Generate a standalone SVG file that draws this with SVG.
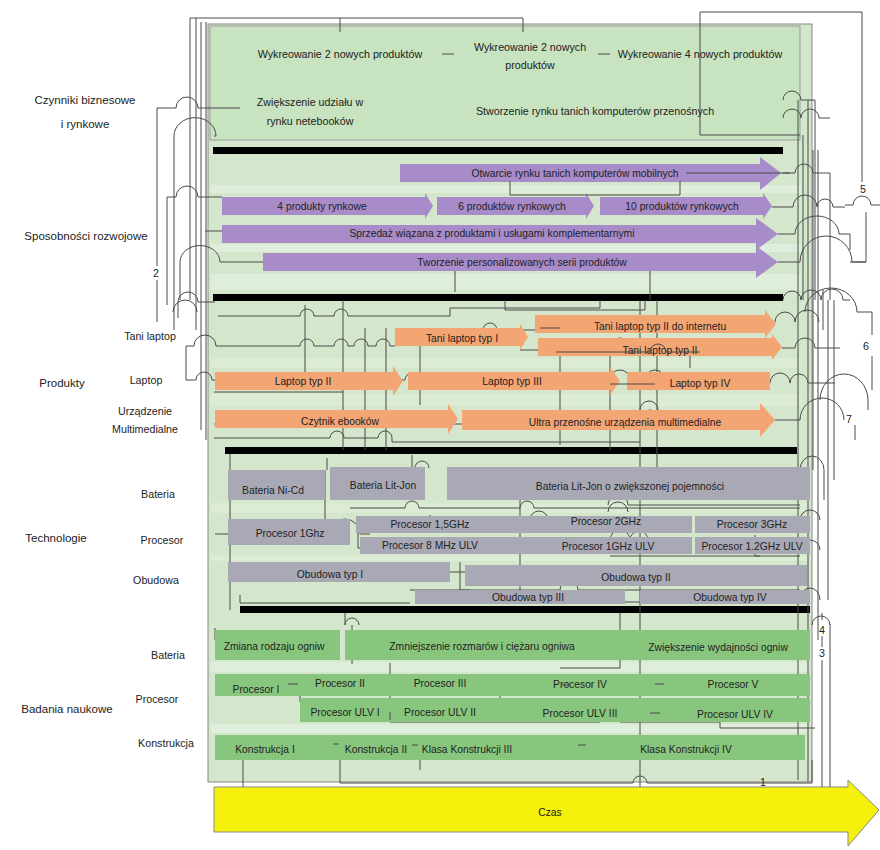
<svg xmlns="http://www.w3.org/2000/svg" width="880" height="850" viewBox="0 0 880 850">
<style>
text{font-family:"Liberation Sans",Arial,sans-serif;fill:#222;text-anchor:middle}
.t{font-size:10.3px}
.s{font-size:10.7px}
.h{font-size:11.5px}
.pur{fill:#a88bc9}
.org{fill:#f3a574}
.gry{fill:#a9a9b6}
.grn{fill:#88c67e}
.bar{fill:#000}
.c{fill:none;stroke:#4a4a4a;stroke-width:1}
</style>
<rect width="880" height="850" fill="#fff"/>
<g id="panel">
<rect x="208" y="24" width="604" height="758" fill="#d4e6cc" stroke="#888" stroke-width="1"/>
<rect x="210" y="26" width="590" height="114" fill="#c8e3c0" stroke="#999" stroke-width="1"/>
<rect x="211" y="185" width="590" height="8" fill="#dfeeda"/>
<rect x="211" y="244" width="590" height="8" fill="#dfeeda"/>
<rect x="211" y="274" width="590" height="16" fill="#dfeeda"/>
<rect x="211" y="358" width="590" height="10" fill="#dbebd4"/>
<rect x="211" y="394" width="590" height="12" fill="#dbebd4"/>
<rect x="211" y="503" width="598" height="10" fill="#dbebd4"/>
<rect x="211" y="555" width="598" height="6" fill="#dbebd4"/>
<rect x="211" y="662" width="598" height="10" fill="#dfeeda"/>
<rect x="211" y="724" width="598" height="9" fill="#dfeeda"/>
</g>
<g id="dividers">
<rect class="bar" x="213" y="147" width="570" height="7"/>
<rect class="bar" x="213" y="294" width="570" height="7"/>
<rect class="bar" x="225" y="447" width="572" height="7"/>
<rect class="bar" x="240" y="606" width="570" height="7"/>
</g>
<g id="labels-left">
<text class="h" x="85" y="104">Czynniki biznesowe</text>
<text class="h" x="85" y="128">i rynkowe</text>
<text class="h" x="86" y="240">Sposobności rozwojowe</text>
<text class="s" x="150" y="340">Tani laptop</text>
<text class="h" x="62" y="387">Produkty</text>
<text class="s" x="146" y="384">Laptop</text>
<text class="s" x="145" y="415">Urządzenie</text>
<text class="s" x="145" y="433">Multimedialne</text>
<text class="s" x="158" y="498">Bateria</text>
<text class="h" x="56" y="542">Technologie</text>
<text class="s" x="162" y="544">Procesor</text>
<text class="s" x="156" y="584">Obudowa</text>
<text class="s" x="168" y="659">Bateria</text>
<text class="h" x="67" y="713">Badania naukowe</text>
<text class="s" x="157" y="703">Procesor</text>
<text class="s" x="166" y="747">Konstrukcja</text>
</g>
<g id="connectors">
<path class="c" d="M190,18 H523 V32 M340,18 V32"/>
<path class="c" d="M190,18 V300 M196,18 V330 M201,22 V430 M206,22 V440"/>
<path class="c" d="M700,12 H862 V182 M700,12 V135 H800"/>
<path class="c" d="M845,205 H853 a9,9 0 0 1 18,0 H880 M866,212 V262 H850"/>
<path class="c" d="M157,322 V280 M157,266 V108 H176 a11,11 0 0 1 22,0 H240"/>
<path class="c" d="M174,330 V136 a16,14 0 0 1 42,0 H214"/>
<path class="c" d="M167,305 V197 H176 a11,11 0 0 1 22,0 H222"/>
<path class="c" d="M205,231 H222"/>
<path class="c" d="M180,300 V262 a17,14 0 0 1 40,0 H263"/>
<path class="c" d="M178,318 V302 a10,10 0 0 1 20,0 H215 M173,312 a12,12 0 0 1 24,0"/>
<path class="c" d="M186,380 V346 H194 a11,11 0 0 1 22,0 H300 a7,7 0 0 1 14,0 H334 a7,7 0 0 1 14,0 H354 a7,7 0 0 1 14,0 H376 a7,7 0 0 1 14,0 H395"/>
<path class="c" d="M218,316 H300 a7,7 0 0 1 14,0 H334 a7,7 0 0 1 14,0 H450 V308 H600 V300"/>
<path class="c" d="M186,380 H196 a8,8 0 0 1 16,0 H330 a7,7 0 0 1 14,0 a7,7 0 0 1 14,0 H366 a7,7 0 0 1 14,0 H405 a7,7 0 0 1 14,0 H520"/>
<path class="c" d="M305,305 V381 M343,300 V450 M365,328 V450 M386,328 V450 M420,340 V405"/>
<path class="c" d="M214,392 H343 M214,424 H325 a7,7 0 0 1 14,0 a7,7 0 0 1 14,0 H360 a7,7 0 0 1 14,0 H420 a7,7 0 0 1 14,0 H470 a7,7 0 0 1 14,0 H520"/>
<path class="c" d="M214,438 H330 a7,7 0 0 1 14,0 H378 a7,7 0 0 1 14,0 V442 H640"/>
<path class="c" d="M455,292 V270 H650 V300 M505,300 V310 H645 V300"/>
<path class="c" d="M545,330 H483 a7,7 0 0 1 14,0 M500,330 V340 H510"/>
<path class="c" d="M520,350 H608 a12,12 0 0 1 24,0 H690 V368 M560,345 V445 M610,355 V450"/>
<path class="c" d="M610,380 a10,10 0 0 1 20,0 H660 M645,380 a10,10 0 0 1 20,0"/>
<path class="c" d="M640,300 V790 M657,300 V500"/>
<path class="c" d="M640,410 a9,9 0 0 1 18,0 M640,420 a10,10 0 0 1 20,0"/>
<path class="c" d="M230,454 V610 M325,470 V520 H300 M327,458 V470"/>
<path class="c" d="M215,534 H330 a15,15 0 0 1 30,0 H370 M358,520 V548 H520"/>
<path class="c" d="M350,508 H405 a7,7 0 0 1 14,0 H520 a7,7 0 0 1 14,0 H800"/>
<path class="c" d="M412,455 V480 M415,468 a7,7 0 0 1 14,0 M430,515 V530 M520,500 V590 M530,520 a9,9 0 0 1 18,0"/>
<path class="c" d="M608,505 a10,10 0 0 1 20,0 H800 M608,512 a10,10 0 0 1 20,0 M610,540 a10,10 0 0 1 20,0 a9,9 0 0 1 18,0"/>
<path class="c" d="M610,556 H760 M755,535 V556 H800 M748,524 H760"/>
<path class="c" d="M460,562 V590 H470 M447,572 H465 M410,590 H560 a9,9 0 0 1 18,0 H800"/>
<path class="c" d="M240,595 V603 H410 M520,602 H640"/>
<path class="c" d="M345,613 V625 a7,7 0 0 1 14,0 M352,625 V664"/>
<path class="c" d="M215,628 V640 M330,640 H340"/>
<path class="c" d="M620,613 V668 H560 M588,690 H597 a10,10 0 0 1 20,0 H800"/>
<path class="c" d="M390,663 V722 H500 V693 H620 M385,690 a7,7 0 0 1 14,0 M215,688 H295 M300,690 V702"/>
<path class="c" d="M500,722 H600 a10,10 0 0 1 20,0 H720 V728 H815"/>
<path class="c" d="M243,760 V793 H640 M340,760 V783 H633 a7,7 0 0 1 14,0 H812 V760 M420,760 V770"/>
<path class="c" d="M798,100 V780 M803,135 V300 M808,100 V782 M813,150 V470 M818,150 V640 M823,290 V330 M828,300 V600 M834,300 V480"/>
<path class="c" d="M783,173 H795 a9,9 0 0 1 18,0 H830 V300"/>
<path class="c" d="M772,207 H793 a12,12 0 0 1 24,0 a8,8 0 0 1 16,0 H845"/>
<path class="c" d="M778,234 H795 a22,18 0 0 1 44,0 H850 V250"/>
<path class="c" d="M778,262 H800 a26,26 0 0 1 52,0 H866"/>
<path class="c" d="M783,100 a9,9 0 0 1 18,0 H815 V300 M783,118 a9,9 0 0 1 18,0 a9,9 0 0 1 18,0 H830"/>
<path class="c" d="M783,300 a9,9 0 0 1 18,0 a10,10 0 0 1 20,0 a11,11 0 0 1 22,0 H850 M805,312 a26,24 0 0 1 52,0 H872 V335 M872,356 V390"/>
<path class="c" d="M775,322 a10,10 0 0 1 20,0 a12,12 0 0 1 24,0 M782,348 H795 a10,10 0 0 1 20,0 H840"/>
<path class="c" d="M770,383 a10,10 0 0 1 20,0 a9,9 0 0 1 18,0 H835"/>
<path class="c" d="M775,420 H800 a22,22 0 0 1 44,0 M820,400 a24,26 0 0 1 48,0 V410 M855,425 V440"/>
<path class="c" d="M800,470 a12,14 0 0 1 24,0 V500 M800,520 a10,10 0 0 1 20,0 M800,550 a10,10 0 0 1 20,0 M800,600 a10,12 0 0 1 20,0"/>
<path class="c" d="M812,625 a9,9 0 0 1 18,0 V624 M822,613 V620 M822,636 V647 M822,660 V790 M830,625 V790"/>
</g>
<g id="czynniki">
<text class="s" x="340" y="58">Wykreowanie 2 nowych  produktów</text>
<text class="s" x="530" y="51">Wykreowanie 2 nowych</text>
<text class="s" x="530" y="69">produktów</text>
<text class="s" x="700" y="58">Wykreowanie 4 nowych  produktów</text>
<text class="s" x="310" y="106">Zwiększenie udziału w</text>
<text class="s" x="310" y="125">rynku netebooków</text>
<text class="s" x="595" y="115">Stworzenie rynku tanich komputerów przenośnych</text>
<path class="c" d="M442,54 H454 M598,54 H610"/>
</g>
<g id="sposobnosci">
<path class="pur" d="M400,164 H760 V157 L781,173 L760,190 V182 H400 Z"/>
<text class="t" x="575" y="177">Otwarcie rynku tanich komputerów mobilnych</text>
<path class="pur" d="M222,197 H425 V193 L433,206 L425,219 V215 H222 Z"/>
<text class="t" x="322" y="210">4 produkty rynkowe</text>
<path class="pur" d="M437,197 H586 V193 L594,206 L586,219 V215 H437 Z"/>
<text class="t" x="512" y="210">6 produktów rynkowych</text>
<path class="pur" d="M600,197 H763 V193 L772,206 L763,219 V215 H600 Z"/>
<text class="t" x="682" y="210">10 produktów rynkowych</text>
<path class="pur" d="M222,225 H756 V218 L778,234 L756,250 V243 H222 Z"/>
<text class="t" x="492" y="237">Sprzedaż wiązana z produktami i usługami komplementarnymi</text>
<path class="pur" d="M263,253 H756 V246 L778,262 L756,278 V271 H263 Z"/>
<text class="t" x="522" y="266">Tworzenie personalizowanych serii produktów</text>
<path class="c" d="M686,173 H790 M510,181 V195 H680 V181"/>
</g>
<g id="produkty">
<path class="org" d="M395,328 H520 V324 L528,337 L520,350 V346 H395 Z"/>
<text class="t" x="462" y="342">Tani laptop typ I</text>
<path class="org" d="M535,315 H765 V310 L776,324 L765,338 V333 H535 Z"/>
<text class="t" x="660" y="330">Tani laptop typ II do internetu</text>
<path class="org" d="M538,338 H772 V334 L782,347 L772,360 V356 H538 Z"/>
<text class="t" x="660" y="354">Tani laptop typ II</text>
<path class="org" d="M215,372 H393 V366 L403,381 L393,396 V390 H215 Z"/>
<text class="t" x="303" y="385">Laptop typ II</text>
<path class="org" d="M408,372 H610 V367 L620,381 L610,395 V390 H408 Z"/>
<text class="t" x="512" y="385">Laptop typ III</text>
<path class="org" d="M627,372 H770 V390 H627 Z"/>
<text class="t" x="700" y="387">Laptop typ IV</text>
<path class="org" d="M215,410 H448 V404 L458,419 L448,434 V428 H215 Z"/>
<text class="t" x="340" y="425">Czytnik ebooków</text>
<path class="org" d="M462,410 H760 V403 L775,420 L760,437 V430 H462 Z"/>
<text class="t" x="625" y="426">Ultra przenośne urządzenia multimedialne</text>
<path class="c" d="M540,328 H560 M556,352 H650 a8,8 0 0 1 16,0 H700 M610,384 H655"/>
</g>
<g id="technologie">
<rect class="gry" x="228" y="470" width="97" height="30"/>
<text class="t" x="273" y="494">Bateria Ni-Cd</text>
<rect class="gry" x="330" y="467" width="95" height="33"/>
<text class="t" x="383" y="489">Bateria Lit-Jon</text>
<rect class="gry" x="447" y="467" width="363" height="33"/>
<text class="t" x="630" y="490">Bateria Lit-Jon o zwiększonej pojemności</text>
<rect class="gry" x="228" y="519" width="122" height="26"/>
<text class="t" x="290" y="537">Procesor 1Ghz</text>
<rect class="gry" x="356" y="516" width="164" height="17"/>
<text class="t" x="430" y="528">Procesor 1,5GHz</text>
<rect class="gry" x="520" y="516" width="172" height="17"/>
<text class="t" x="606" y="525">Procesor 2GHz</text>
<rect class="gry" x="695" y="516" width="115" height="17"/>
<text class="t" x="752" y="528">Procesor 3GHz</text>
<rect class="gry" x="360" y="537" width="160" height="17"/>
<text class="t" x="430" y="549">Procesor 8 MHz ULV</text>
<rect class="gry" x="520" y="537" width="172" height="17"/>
<text class="t" x="608" y="550">Procesor 1GHz ULV</text>
<rect class="gry" x="695" y="537" width="115" height="17"/>
<text class="t" x="752" y="550">Procesor 1.2GHz ULV</text>
<rect class="gry" x="228" y="562" width="222" height="20"/>
<text class="t" x="330" y="578">Obudowa typ I</text>
<rect class="gry" x="465" y="565" width="342" height="21"/>
<text class="t" x="636" y="581">Obudowa typ II</text>
<rect class="gry" x="415" y="590" width="210" height="14"/>
<text class="t" x="528" y="601">Obudowa typ III</text>
<rect class="gry" x="640" y="590" width="170" height="14"/>
<text class="t" x="730" y="601">Obudowa typ IV</text>
</g>
<g id="badania">
<rect class="grn" x="215" y="630" width="125" height="30"/>
<text class="t" x="274" y="650">Zmiana rodzaju ogniw</text>
<rect class="grn" x="345" y="630" width="275" height="30"/>
<text class="t" x="482" y="650">Zmniejszenie rozmarów i ciężaru ogniwa</text>
<rect class="grn" x="620" y="630" width="190" height="30"/>
<text class="t" x="718" y="651">Zwiększenie wydajności ogniw</text>
<rect class="grn" x="215" y="674" width="595" height="22"/>
<rect class="grn" x="300" y="698" width="510" height="24"/>
<text class="t" x="256" y="693">Procesor I</text>
<text class="t" x="340" y="687">Procesor II</text>
<text class="t" x="440" y="687">Procesor III</text>
<text class="t" x="580" y="688">Procesor IV</text>
<text class="t" x="733" y="688">Procesor V</text>
<text class="t" x="345" y="716">Procesor ULV I</text>
<text class="t" x="440" y="716">Procesor ULV II</text>
<text class="t" x="580" y="717">Procesor ULV III</text>
<text class="t" x="735" y="718">Procesor ULV IV</text>
<rect class="grn" x="215" y="735" width="590" height="25"/>
<text class="t" x="265" y="753">Konstrukcja I</text>
<text class="t" x="376" y="753">Konstrukcja II</text>
<text class="t" x="467" y="753">Klasa Konstrukcji III</text>
<text class="t" x="686" y="753">Klasa Konstrukcji IV</text>
<path class="c" d="M288,684 H298 M333,744 H339 M412,745 H418 M578,745 H586 M562,685 H570 M655,684 H664 M650,713 H660 M390,712 V720"/>
</g>
<g id="numbers">
<rect x="150" y="266" width="12" height="14" fill="#fff"/>
<text class="s" x="156" y="277">2</text>
<text class="s" x="863" y="193">5</text>
<text class="s" x="866" y="350">6</text>
<text class="s" x="849" y="423">7</text>
<text class="s" x="822" y="634">4</text>
<text class="s" x="822" y="657">3</text>
<text class="s" x="763" y="786">1</text>
</g>
<g id="czas">
<path d="M214,787 H848 V780 L879,810 L848,846 V832 H214 Z" fill="#f5f00c" stroke="#888" stroke-width="1"/>
<text class="t" x="550" y="816">Czas</text>
</g>
</svg>
